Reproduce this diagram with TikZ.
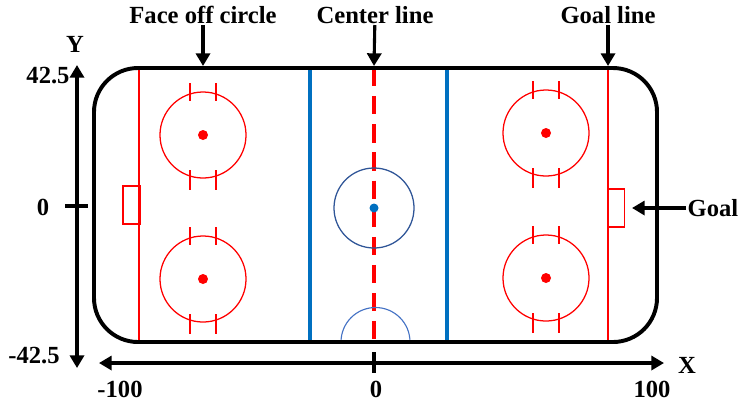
\documentclass[tikz,border=0pt]{standalone}
\usepackage{fontspec}
\setmainfont{Liberation Serif}
\usepackage{xcolor}
\usetikzlibrary{arrows.meta}
\definecolor{lineblue}{HTML}{0070C0}
\definecolor{ringblue}{HTML}{2F5597}
\definecolor{arcblue}{HTML}{4472C4}
\begin{document}
\begin{tikzpicture}[x=0.025cm,y=-0.025cm,
  lbl/.style={font=\bfseries\fontsize{17.5}{19}\selectfont,inner sep=1pt},
  arr/.style={line width=2.2pt,-{Triangle[length=9pt,width=10pt]}},
  axis/.style={line width=2.2pt,{Triangle[length=9pt,width=10pt]}-{Triangle[length=9pt,width=10pt]}},
  faceoff/.style={circle,draw=red,line width=0.9pt,minimum size=2.15cm,inner sep=0pt},
  goalbox/.style={draw=red,line width=0.8pt,minimum width=0.425cm,minimum height=0.95cm,inner sep=0pt}]
\useasboundingbox (0,0) rectangle (740,404);

\draw[red,line width=0.8pt] (139,68) -- (139,342) (608,68) -- (608,342);
\draw[lineblue,line width=2.2pt] (310,68) -- (310,342) (447,68) -- (447,342);
\draw[red,line width=2.5pt,dash pattern=on 13pt off 7pt] (374,68) -- (374,342);

\node[goalbox] (gl) at (131.5,205) {};
\node[goalbox] (gr) at (616,208) {};

\foreach \cx/\cy [count=\i] in {203/135,203/279,546/133,546/278} {
  \node[faceoff] (fc\i) at (\cx,\cy) {};
  \fill[red] (fc\i.center) circle (5);
  \draw[red,line width=0.9pt] (\cx-13,\cy-52) -- (\cx-13,\cy-34) (\cx+13,\cy-52) -- (\cx+13,\cy-34)
    (\cx-13,\cy+35) -- (\cx-13,\cy+55) (\cx+13,\cy+35) -- (\cx+13,\cy+55);
}

\node[circle,draw=ringblue,line width=0.9pt,minimum size=2cm,inner sep=0pt] (cc) at (374,208) {};
\fill[lineblue] (cc.center) circle (4.5);
\draw[arcblue,line width=0.8pt] (341,342) arc (180:360:34.5);

\draw[line width=2.8pt,rounded corners=1.1cm] (94,68) rectangle (657,342);

\node[lbl,anchor=south] (face) at (203,25) {Face off circle};
\node[lbl,anchor=south] (center) at (375,25) {Center line};
\node[lbl,anchor=south] (goalline) at (608,25) {Goal line};
\node[lbl,anchor=west] (goal) at (686,208) {Goal};
\coordinate (facetip) at (203,66);
\coordinate (centertip) at (374,66);
\coordinate (goallinetip) at (608,66);
\coordinate (goaltip) at (632,208);
\draw[arr] (face) -- (facetip);
\draw[arr] (center) -- (centertip);
\draw[arr] (goalline) -- (goallinetip);
\draw[arr] (goal.west) -- (goaltip);

\coordinate (ytop) at (77,65);
\coordinate (ybot) at (77,368);
\coordinate (xleft) at (99,363);
\coordinate (xright) at (664,363);
\draw[axis] (ytop) -- (ybot);
\draw[axis] (xleft) -- (xright);
\draw[line width=2.2pt] (65,206) -- (88,206) (374,352) -- (374,373);

\node[lbl] (ylbl) at (75,44) {Y};
\node[lbl] (ymax) at (48,76) {42.5};
\node[lbl] (yzero) at (43,207) {0};
\node[lbl] (ymin) at (34,356) {-42.5};
\node[lbl] (xlbl) at (687,365) {X};
\node[lbl] (xmin) at (120,389) {-100};
\node[lbl] (xzero) at (376,389) {0};
\node[lbl] (xmax) at (652,389) {100};
\end{tikzpicture}
\end{document}
